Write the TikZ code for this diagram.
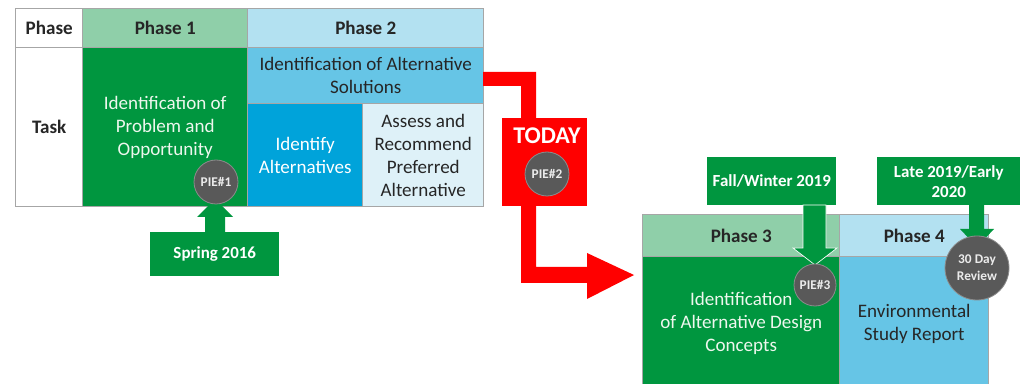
\documentclass[tikz,border=0pt]{standalone}
\usepackage{fontspec}
\setmainfont{Carlito}
\definecolor{headgreen}{HTML}{8FCFA9}
\definecolor{deepgreen}{HTML}{00963F}
\definecolor{headblue}{HTML}{B3E1F1}
\definecolor{solblue}{HTML}{66C5E6}
\definecolor{idblue}{HTML}{00A3DA}
\definecolor{paleblue}{HTML}{DEF1F8}
\definecolor{gridgray}{HTML}{A6A6A6}
\definecolor{piegray}{HTML}{595959}
\definecolor{pieedge}{HTML}{8C8C8C}
\definecolor{ink}{HTML}{262626}
\definecolor{softwhite}{HTML}{EEF7EE}
\begin{document}
\begin{tikzpicture}[x=0.75pt,y=-0.75pt,
  cell/.style={draw=gridgray, line width=1.1pt, anchor=north west, inner sep=0pt,
    align=center, text=ink, font=\fontsize{14.3}{17.25}\selectfont},
  head/.style={cell, font=\bfseries\fontsize{14.3}{17.25}\selectfont},
  sz/.style 2 args={minimum width=#1*0.75pt, minimum height=#2*0.75pt},
  datebox/.style={fill=deepgreen, anchor=north west, inner sep=0pt, align=center,
    text=white, font=\bfseries\fontsize{12.7}{15}\selectfont},
  pie/.style={circle, fill=piegray, draw=pieedge, line width=0.6pt, inner sep=0pt,
    align=center, text=white!92!black, font=\bfseries\fontsize{10}{12.75}\selectfont},
  greenarrow/.style={fill=deepgreen, draw=white, line width=0.5pt}]
\clip (0,0) rectangle (1024,384);
\fill[white] (0,0) rectangle (1024,384);

% ---- phases 1 and 2 table ----
\node[head, sz={67}{39}] (phasecol) at (15,8) {Phase};
\node[head, sz={67}{159}] (taskcol) at (15,47) {Task};
\node[head, sz={165}{39}, fill=headgreen] (p1head) at (82,8) {Phase 1};
\node[cell, sz={165}{159}, fill=deepgreen, text=softwhite] (p1body) at (82,47)
  {Identification of\\Problem and\\Opportunity};
\node[head, sz={236}{39}, fill=headblue] (p2head) at (247,8) {Phase 2};
\node[cell, sz={236}{56}, fill=solblue] (sol) at (247,47)
  {Identification of Alternative\\Solutions};
\node[cell, sz={115}{103}, fill=idblue, text=white] (idalt) at (247,103)
  {Identify\\Alternatives};
\node[cell, sz={121}{103}, fill=paleblue] (assess) at (362,103)
  {Assess and\\Recommend\\Preferred\\Alternative};

% ---- spring 2016 milestone ----
\node[datebox, sz={129}{44}] (spring) at (150,232) {Spring 2016};
\fill[deepgreen] (205,232) -- (205,217) -- (197,217) -- (215,199) -- (233,217)
  -- (225,217) -- (225,232) -- cycle;
\node[pie, minimum size=44*0.75pt] (pie1) at (216,182) {PIE\#1};

% ---- today marker and red path ----
\fill[red] (483,72) -- (536,72) -- (536,267) -- (587,267) -- (587,253) -- (634,275)
  -- (587,299) -- (587,283) -- (521,283) -- (521,86) -- (483,86) -- cycle;
\node[fill=red, anchor=north west, inner sep=0pt, sz={85}{88}] (today) at (502,118) {};
\node[text=white, font=\bfseries\fontsize{18}{20}\selectfont, inner sep=0pt] (todaytxt)
  at (547,136) {TODAY};
\node[pie, minimum size=44*0.75pt] (pie2) at (547,174) {PIE\#2};

% ---- phases 3 and 4 ----
\node[head, sz={197}{42}, fill=headgreen] (p3head) at (642,214) {Phase 3};
\node[cell, sz={197}{134}, fill=deepgreen, text=softwhite] (p3body) at (642,256)
  {Identification\\of Alternative Design\\Concepts};
\node[head, sz={149}{42}, fill=headblue] (p4head) at (839,214) {Phase 4};
\node[cell, sz={149}{134}, fill=solblue] (p4body) at (839,256)
  {Environmental\\Study Report};

% ---- later milestones ----
\node[datebox, sz={129}{48}] (fall) at (707,157) {Fall/Winter 2019};
\fill[greenarrow] (803,205) -- (803,248) -- (793,248) -- (815,265) -- (837,248)
  -- (826,248) -- (826,205) -- cycle;
\node[pie, minimum size=42*0.75pt] (pie3) at (815,285) {PIE\#3};

\node[datebox, sz={143}{48}] (late) at (877,157) {Late 2019/Early\\2020};
\fill[deepgreen] (969,205) -- (969,229) -- (960,229) -- (977,247) -- (994,229)
  -- (984,229) -- (984,205) -- cycle;
\node[pie, minimum size=64*0.75pt] (review) at (977,268) {30 Day\\Review};
\end{tikzpicture}
\end{document}
